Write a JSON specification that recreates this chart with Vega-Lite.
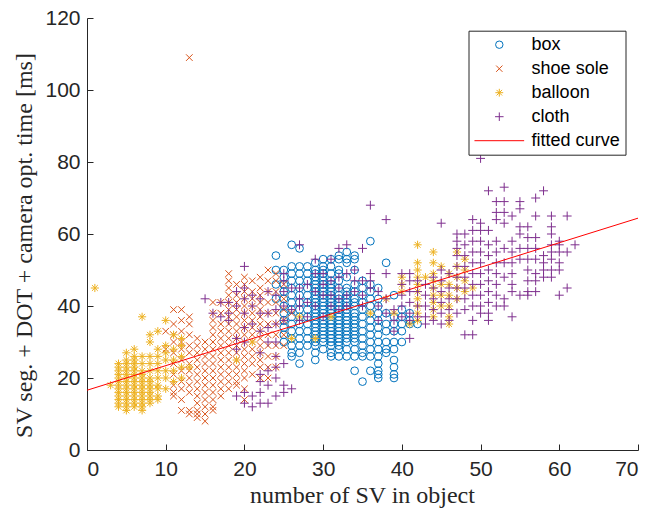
{
  "$schema": "https://vega.github.io/schema/vega-lite/v6.json",
  "width": 551,
  "height": 432,
  "autosize": {"type": "none"},
  "padding": {"left": 87, "top": 18, "right": 24, "bottom": 58},
  "background": "white",
  "config": {
    "view": {"stroke": null},
    "axis": {
      "grid": false,
      "domainColor": "#262626",
      "tickColor": "#262626",
      "labelColor": "#262626",
      "labelFont": "Liberation Sans",
      "labelFontSize": 21,
      "titleFont": "Liberation Serif",
      "titleFontSize": 24,
      "titleFontWeight": "normal",
      "titleColor": "#262626",
      "tickSize": -6,
      "tickWidth": 1,
      "domainWidth": 1
    },
    "legend": {
      "orient": "none",
      "legendX": 381.5,
      "legendY": 12.7,
      "labelFont": "Liberation Sans",
      "labelFontSize": 18,
      "labelColor": "#000000",
      "strokeColor": "#262626",
      "fillColor": "white",
      "padding": 5,
      "symbolOffset": 16.8,
      "labelOffset": 23.3,
      "rowPadding": 6,
      "symbolSize": 55,
      "symbolStrokeWidth": 1
    }
  },
  "data": {
    "values": [
      {"s":"box","x":24,"y":54},{"s":"box","x":24,"y":50},{"s":"box","x":24,"y":46},{"s":"box","x":24,"y":42},
      {"s":"box","x":25,"y":50},{"s":"box","x":25,"y":48},{"s":"box","x":25,"y":46},{"s":"box","x":25,"y":44},{"s":"box","x":25,"y":42},{"s":"box","x":25,"y":40},{"s":"box","x":25,"y":38},{"s":"box","x":25,"y":36},{"s":"box","x":25,"y":34},{"s":"box","x":25,"y":32},{"s":"box","x":25,"y":30},
      {"s":"box","x":26,"y":57},{"s":"box","x":26,"y":51},{"s":"box","x":26,"y":49},{"s":"box","x":26,"y":47},{"s":"box","x":26,"y":45},{"s":"box","x":26,"y":43},{"s":"box","x":26,"y":41},{"s":"box","x":26,"y":39},{"s":"box","x":26,"y":37},{"s":"box","x":26,"y":35},{"s":"box","x":26,"y":33},{"s":"box","x":26,"y":31},{"s":"box","x":26,"y":29},{"s":"box","x":26,"y":27},{"s":"box","x":26,"y":26},
      {"s":"box","x":27,"y":56},{"s":"box","x":27,"y":51},{"s":"box","x":27,"y":49},{"s":"box","x":27,"y":47},{"s":"box","x":27,"y":45},{"s":"box","x":27,"y":43},{"s":"box","x":27,"y":41},{"s":"box","x":27,"y":39},{"s":"box","x":27,"y":37},{"s":"box","x":27,"y":35},{"s":"box","x":27,"y":33},{"s":"box","x":27,"y":31},{"s":"box","x":27,"y":29},{"s":"box","x":27,"y":27},{"s":"box","x":27,"y":24},
      {"s":"box","x":28,"y":51},{"s":"box","x":28,"y":49},{"s":"box","x":28,"y":47},{"s":"box","x":28,"y":45},{"s":"box","x":28,"y":43},{"s":"box","x":28,"y":41},{"s":"box","x":28,"y":39},{"s":"box","x":28,"y":37},{"s":"box","x":28,"y":35},{"s":"box","x":28,"y":33},{"s":"box","x":28,"y":31},{"s":"box","x":28,"y":29},
      {"s":"box","x":29,"y":52},{"s":"box","x":29,"y":50},{"s":"box","x":29,"y":49},{"s":"box","x":29,"y":48},{"s":"box","x":29,"y":47},{"s":"box","x":29,"y":46},{"s":"box","x":29,"y":45},{"s":"box","x":29,"y":44},{"s":"box","x":29,"y":43},{"s":"box","x":29,"y":42},{"s":"box","x":29,"y":41},{"s":"box","x":29,"y":40},{"s":"box","x":29,"y":39},{"s":"box","x":29,"y":38},{"s":"box","x":29,"y":37},{"s":"box","x":29,"y":36},{"s":"box","x":29,"y":35},{"s":"box","x":29,"y":34},{"s":"box","x":29,"y":33},{"s":"box","x":29,"y":32},{"s":"box","x":29,"y":31},{"s":"box","x":29,"y":30},{"s":"box","x":29,"y":29},{"s":"box","x":29,"y":27},{"s":"box","x":29,"y":25},
      {"s":"box","x":30,"y":53},{"s":"box","x":30,"y":51},{"s":"box","x":30,"y":50},{"s":"box","x":30,"y":49},{"s":"box","x":30,"y":48},{"s":"box","x":30,"y":47},{"s":"box","x":30,"y":46},{"s":"box","x":30,"y":45},{"s":"box","x":30,"y":44},{"s":"box","x":30,"y":43},{"s":"box","x":30,"y":42},{"s":"box","x":30,"y":41},{"s":"box","x":30,"y":40},{"s":"box","x":30,"y":39},{"s":"box","x":30,"y":38},{"s":"box","x":30,"y":37},{"s":"box","x":30,"y":36},{"s":"box","x":30,"y":35},{"s":"box","x":30,"y":34},{"s":"box","x":30,"y":33},{"s":"box","x":30,"y":32},{"s":"box","x":30,"y":31},{"s":"box","x":30,"y":30},{"s":"box","x":30,"y":28},
      {"s":"box","x":31,"y":53},{"s":"box","x":31,"y":51},{"s":"box","x":31,"y":49},{"s":"box","x":31,"y":47},{"s":"box","x":31,"y":46},{"s":"box","x":31,"y":45},{"s":"box","x":31,"y":44},{"s":"box","x":31,"y":43},{"s":"box","x":31,"y":42},{"s":"box","x":31,"y":41},{"s":"box","x":31,"y":40},{"s":"box","x":31,"y":39},{"s":"box","x":31,"y":38},{"s":"box","x":31,"y":37},{"s":"box","x":31,"y":36},{"s":"box","x":31,"y":35},{"s":"box","x":31,"y":34},{"s":"box","x":31,"y":33},{"s":"box","x":31,"y":32},{"s":"box","x":31,"y":31},{"s":"box","x":31,"y":30},{"s":"box","x":31,"y":29},{"s":"box","x":31,"y":27},{"s":"box","x":31,"y":26},
      {"s":"box","x":32,"y":54},{"s":"box","x":32,"y":53},{"s":"box","x":32,"y":50},{"s":"box","x":32,"y":49},{"s":"box","x":32,"y":47},{"s":"box","x":32,"y":45},{"s":"box","x":32,"y":43},{"s":"box","x":32,"y":42},{"s":"box","x":32,"y":41},{"s":"box","x":32,"y":40},{"s":"box","x":32,"y":39},{"s":"box","x":32,"y":38},{"s":"box","x":32,"y":37},{"s":"box","x":32,"y":36},{"s":"box","x":32,"y":35},{"s":"box","x":32,"y":34},{"s":"box","x":32,"y":33},{"s":"box","x":32,"y":32},{"s":"box","x":32,"y":31},{"s":"box","x":32,"y":30},{"s":"box","x":32,"y":29},{"s":"box","x":32,"y":28},{"s":"box","x":32,"y":26},
      {"s":"box","x":33,"y":55},{"s":"box","x":33,"y":53},{"s":"box","x":33,"y":52},{"s":"box","x":33,"y":48},{"s":"box","x":33,"y":45},{"s":"box","x":33,"y":44},{"s":"box","x":33,"y":43},{"s":"box","x":33,"y":42},{"s":"box","x":33,"y":41},{"s":"box","x":33,"y":40},{"s":"box","x":33,"y":39},{"s":"box","x":33,"y":38},{"s":"box","x":33,"y":37},{"s":"box","x":33,"y":36},{"s":"box","x":33,"y":35},{"s":"box","x":33,"y":34},{"s":"box","x":33,"y":33},{"s":"box","x":33,"y":32},{"s":"box","x":33,"y":31},{"s":"box","x":33,"y":30},{"s":"box","x":33,"y":28},{"s":"box","x":33,"y":26},
      {"s":"box","x":34,"y":54},{"s":"box","x":34,"y":53},{"s":"box","x":34,"y":50},{"s":"box","x":34,"y":46},{"s":"box","x":34,"y":44},{"s":"box","x":34,"y":42},{"s":"box","x":34,"y":41},{"s":"box","x":34,"y":40},{"s":"box","x":34,"y":38},{"s":"box","x":34,"y":37},{"s":"box","x":34,"y":36},{"s":"box","x":34,"y":35},{"s":"box","x":34,"y":34},{"s":"box","x":34,"y":33},{"s":"box","x":34,"y":32},{"s":"box","x":34,"y":31},{"s":"box","x":34,"y":30},{"s":"box","x":34,"y":28},{"s":"box","x":34,"y":26},{"s":"box","x":34,"y":22},
      {"s":"box","x":35,"y":47},{"s":"box","x":35,"y":45},{"s":"box","x":35,"y":43},{"s":"box","x":35,"y":41},{"s":"box","x":35,"y":39},{"s":"box","x":35,"y":37},{"s":"box","x":35,"y":35},{"s":"box","x":35,"y":33},{"s":"box","x":35,"y":31},{"s":"box","x":35,"y":29},{"s":"box","x":35,"y":27},{"s":"box","x":35,"y":26},{"s":"box","x":35,"y":19},
      {"s":"box","x":36,"y":58},{"s":"box","x":36,"y":46},{"s":"box","x":36,"y":44},{"s":"box","x":36,"y":42},{"s":"box","x":36,"y":40},{"s":"box","x":36,"y":38},{"s":"box","x":36,"y":36},{"s":"box","x":36,"y":34},{"s":"box","x":36,"y":32},{"s":"box","x":36,"y":30},{"s":"box","x":36,"y":28},{"s":"box","x":36,"y":26},{"s":"box","x":36,"y":22},
      {"s":"box","x":37,"y":45},{"s":"box","x":37,"y":42},{"s":"box","x":37,"y":40},{"s":"box","x":37,"y":38},{"s":"box","x":37,"y":36},{"s":"box","x":37,"y":34},{"s":"box","x":37,"y":32},{"s":"box","x":37,"y":30},{"s":"box","x":37,"y":28},{"s":"box","x":37,"y":26},{"s":"box","x":37,"y":24},{"s":"box","x":37,"y":22},{"s":"box","x":37,"y":21},{"s":"box","x":37,"y":20},
      {"s":"box","x":38,"y":52},{"s":"box","x":38,"y":38},{"s":"box","x":38,"y":35},{"s":"box","x":38,"y":33},{"s":"box","x":38,"y":30},{"s":"box","x":38,"y":28},{"s":"box","x":38,"y":27},
      {"s":"box","x":39,"y":43},{"s":"box","x":39,"y":37},{"s":"box","x":39,"y":35},{"s":"box","x":39,"y":33},{"s":"box","x":39,"y":30},{"s":"box","x":39,"y":28},{"s":"box","x":39,"y":25},{"s":"box","x":39,"y":23},{"s":"box","x":39,"y":21},{"s":"box","x":39,"y":20},
      {"s":"box","x":40,"y":39},{"s":"box","x":40,"y":37},{"s":"box","x":40,"y":35},{"s":"box","x":40,"y":33},{"s":"box","x":40,"y":30},
      {"s":"box","x":41,"y":38},{"s":"box","x":41,"y":36},{"s":"box","x":41,"y":35},
      {"s":"box","x":42,"y":35},

      {"s":"shoe sole","x":10,"y":33},{"s":"shoe sole","x":10,"y":28},
      {"s":"shoe sole","x":11,"y":39},{"s":"shoe sole","x":11,"y":35},{"s":"shoe sole","x":11,"y":32},{"s":"shoe sole","x":11,"y":30},{"s":"shoe sole","x":11,"y":27},{"s":"shoe sole","x":11,"y":24},{"s":"shoe sole","x":11,"y":21},{"s":"shoe sole","x":11,"y":18},{"s":"shoe sole","x":11,"y":16},{"s":"shoe sole","x":11,"y":15},
      {"s":"shoe sole","x":12,"y":39},{"s":"shoe sole","x":12,"y":36},{"s":"shoe sole","x":12,"y":33},{"s":"shoe sole","x":12,"y":30},{"s":"shoe sole","x":12,"y":28},{"s":"shoe sole","x":12,"y":25},{"s":"shoe sole","x":12,"y":22},{"s":"shoe sole","x":12,"y":19},{"s":"shoe sole","x":12,"y":17},{"s":"shoe sole","x":12,"y":14},{"s":"shoe sole","x":12,"y":11},
      {"s":"shoe sole","x":13,"y":109},{"s":"shoe sole","x":13,"y":37},{"s":"shoe sole","x":13,"y":35},{"s":"shoe sole","x":13,"y":32},{"s":"shoe sole","x":13,"y":29},{"s":"shoe sole","x":13,"y":27},{"s":"shoe sole","x":13,"y":24},{"s":"shoe sole","x":13,"y":22},{"s":"shoe sole","x":13,"y":20},{"s":"shoe sole","x":13,"y":18},{"s":"shoe sole","x":13,"y":16},{"s":"shoe sole","x":13,"y":11},{"s":"shoe sole","x":13,"y":10},
      {"s":"shoe sole","x":14,"y":31},{"s":"shoe sole","x":14,"y":29},{"s":"shoe sole","x":14,"y":27},{"s":"shoe sole","x":14,"y":25},{"s":"shoe sole","x":14,"y":23},{"s":"shoe sole","x":14,"y":21},{"s":"shoe sole","x":14,"y":19},{"s":"shoe sole","x":14,"y":17},{"s":"shoe sole","x":14,"y":15},{"s":"shoe sole","x":14,"y":13},{"s":"shoe sole","x":14,"y":11},{"s":"shoe sole","x":14,"y":10},{"s":"shoe sole","x":14,"y":9},
      {"s":"shoe sole","x":15,"y":30},{"s":"shoe sole","x":15,"y":28},{"s":"shoe sole","x":15,"y":26},{"s":"shoe sole","x":15,"y":24},{"s":"shoe sole","x":15,"y":22},{"s":"shoe sole","x":15,"y":20},{"s":"shoe sole","x":15,"y":18},{"s":"shoe sole","x":15,"y":16},{"s":"shoe sole","x":15,"y":14},{"s":"shoe sole","x":15,"y":12},{"s":"shoe sole","x":15,"y":10},{"s":"shoe sole","x":15,"y":8},
      {"s":"shoe sole","x":16,"y":41},{"s":"shoe sole","x":16,"y":38},{"s":"shoe sole","x":16,"y":36},{"s":"shoe sole","x":16,"y":34},{"s":"shoe sole","x":16,"y":32},{"s":"shoe sole","x":16,"y":30},{"s":"shoe sole","x":16,"y":28},{"s":"shoe sole","x":16,"y":26},{"s":"shoe sole","x":16,"y":24},{"s":"shoe sole","x":16,"y":22},{"s":"shoe sole","x":16,"y":20},{"s":"shoe sole","x":16,"y":18},{"s":"shoe sole","x":16,"y":16},{"s":"shoe sole","x":16,"y":14},{"s":"shoe sole","x":16,"y":12},{"s":"shoe sole","x":16,"y":11},
      {"s":"shoe sole","x":17,"y":41},{"s":"shoe sole","x":17,"y":38},{"s":"shoe sole","x":17,"y":35},{"s":"shoe sole","x":17,"y":33},{"s":"shoe sole","x":17,"y":31},{"s":"shoe sole","x":17,"y":29},{"s":"shoe sole","x":17,"y":27},{"s":"shoe sole","x":17,"y":25},{"s":"shoe sole","x":17,"y":23},{"s":"shoe sole","x":17,"y":21},{"s":"shoe sole","x":17,"y":19},{"s":"shoe sole","x":17,"y":17},{"s":"shoe sole","x":17,"y":15},
      {"s":"shoe sole","x":18,"y":49},{"s":"shoe sole","x":18,"y":47},{"s":"shoe sole","x":18,"y":45},{"s":"shoe sole","x":18,"y":43},{"s":"shoe sole","x":18,"y":41},{"s":"shoe sole","x":18,"y":39},{"s":"shoe sole","x":18,"y":37},{"s":"shoe sole","x":18,"y":35},{"s":"shoe sole","x":18,"y":33},{"s":"shoe sole","x":18,"y":31},{"s":"shoe sole","x":18,"y":29},{"s":"shoe sole","x":18,"y":27},{"s":"shoe sole","x":18,"y":25},{"s":"shoe sole","x":18,"y":23},{"s":"shoe sole","x":18,"y":21},{"s":"shoe sole","x":18,"y":19},{"s":"shoe sole","x":18,"y":17},
      {"s":"shoe sole","x":19,"y":46},{"s":"shoe sole","x":19,"y":43},{"s":"shoe sole","x":19,"y":41},{"s":"shoe sole","x":19,"y":39},{"s":"shoe sole","x":19,"y":37},{"s":"shoe sole","x":19,"y":35},{"s":"shoe sole","x":19,"y":33},{"s":"shoe sole","x":19,"y":31},{"s":"shoe sole","x":19,"y":29},{"s":"shoe sole","x":19,"y":27},{"s":"shoe sole","x":19,"y":25},{"s":"shoe sole","x":19,"y":23},{"s":"shoe sole","x":19,"y":21},{"s":"shoe sole","x":19,"y":19},{"s":"shoe sole","x":19,"y":18},
      {"s":"shoe sole","x":20,"y":48},{"s":"shoe sole","x":20,"y":46},{"s":"shoe sole","x":20,"y":44},{"s":"shoe sole","x":20,"y":42},{"s":"shoe sole","x":20,"y":40},{"s":"shoe sole","x":20,"y":38},{"s":"shoe sole","x":20,"y":36},{"s":"shoe sole","x":20,"y":34},{"s":"shoe sole","x":20,"y":32},{"s":"shoe sole","x":20,"y":30},{"s":"shoe sole","x":20,"y":28},{"s":"shoe sole","x":20,"y":26},{"s":"shoe sole","x":20,"y":24},{"s":"shoe sole","x":20,"y":22},{"s":"shoe sole","x":20,"y":20},{"s":"shoe sole","x":20,"y":17},{"s":"shoe sole","x":20,"y":14},
      {"s":"shoe sole","x":21,"y":47},{"s":"shoe sole","x":21,"y":44},{"s":"shoe sole","x":21,"y":42},{"s":"shoe sole","x":21,"y":40},{"s":"shoe sole","x":21,"y":38},{"s":"shoe sole","x":21,"y":36},{"s":"shoe sole","x":21,"y":34},{"s":"shoe sole","x":21,"y":32},{"s":"shoe sole","x":21,"y":30},{"s":"shoe sole","x":21,"y":28},{"s":"shoe sole","x":21,"y":26},{"s":"shoe sole","x":21,"y":24},{"s":"shoe sole","x":21,"y":21},
      {"s":"shoe sole","x":22,"y":48},{"s":"shoe sole","x":22,"y":45},{"s":"shoe sole","x":22,"y":43},{"s":"shoe sole","x":22,"y":41},{"s":"shoe sole","x":22,"y":39},{"s":"shoe sole","x":22,"y":37},{"s":"shoe sole","x":22,"y":35},{"s":"shoe sole","x":22,"y":33},{"s":"shoe sole","x":22,"y":31},{"s":"shoe sole","x":22,"y":29},{"s":"shoe sole","x":22,"y":27},{"s":"shoe sole","x":22,"y":25},{"s":"shoe sole","x":22,"y":23},{"s":"shoe sole","x":22,"y":20},
      {"s":"shoe sole","x":23,"y":50},{"s":"shoe sole","x":23,"y":47},{"s":"shoe sole","x":23,"y":44},{"s":"shoe sole","x":23,"y":41},{"s":"shoe sole","x":23,"y":38},{"s":"shoe sole","x":23,"y":35},{"s":"shoe sole","x":23,"y":32},{"s":"shoe sole","x":23,"y":29},{"s":"shoe sole","x":23,"y":26},{"s":"shoe sole","x":23,"y":23},{"s":"shoe sole","x":23,"y":20},
      {"s":"shoe sole","x":24,"y":49},{"s":"shoe sole","x":24,"y":47},{"s":"shoe sole","x":24,"y":44},{"s":"shoe sole","x":24,"y":41},{"s":"shoe sole","x":24,"y":38},{"s":"shoe sole","x":24,"y":35},{"s":"shoe sole","x":24,"y":32},{"s":"shoe sole","x":24,"y":29},{"s":"shoe sole","x":24,"y":26},{"s":"shoe sole","x":24,"y":23},
      {"s":"shoe sole","x":25,"y":46},{"s":"shoe sole","x":25,"y":42},{"s":"shoe sole","x":25,"y":39},{"s":"shoe sole","x":25,"y":36},{"s":"shoe sole","x":25,"y":32},{"s":"shoe sole","x":25,"y":29},
      {"s":"shoe sole","x":26,"y":38},

      {"s":"balloon","x":1,"y":45},{"s":"balloon","x":3,"y":18},
      {"s":"balloon","x":4,"y":12},{"s":"balloon","x":4,"y":13},{"s":"balloon","x":4,"y":14},{"s":"balloon","x":4,"y":15},{"s":"balloon","x":4,"y":16},{"s":"balloon","x":4,"y":17},{"s":"balloon","x":4,"y":18},{"s":"balloon","x":4,"y":19},{"s":"balloon","x":4,"y":20},{"s":"balloon","x":4,"y":21},{"s":"balloon","x":4,"y":22},{"s":"balloon","x":4,"y":23},{"s":"balloon","x":4,"y":24},
      {"s":"balloon","x":5,"y":11},{"s":"balloon","x":5,"y":12},{"s":"balloon","x":5,"y":13},{"s":"balloon","x":5,"y":14},{"s":"balloon","x":5,"y":15},{"s":"balloon","x":5,"y":16},{"s":"balloon","x":5,"y":17},{"s":"balloon","x":5,"y":18},{"s":"balloon","x":5,"y":19},{"s":"balloon","x":5,"y":20},{"s":"balloon","x":5,"y":21},{"s":"balloon","x":5,"y":22},{"s":"balloon","x":5,"y":23},{"s":"balloon","x":5,"y":24},{"s":"balloon","x":5,"y":25},{"s":"balloon","x":5,"y":27},
      {"s":"balloon","x":6,"y":12},{"s":"balloon","x":6,"y":13},{"s":"balloon","x":6,"y":14},{"s":"balloon","x":6,"y":15},{"s":"balloon","x":6,"y":16},{"s":"balloon","x":6,"y":17},{"s":"balloon","x":6,"y":18},{"s":"balloon","x":6,"y":19},{"s":"balloon","x":6,"y":20},{"s":"balloon","x":6,"y":21},{"s":"balloon","x":6,"y":22},{"s":"balloon","x":6,"y":23},{"s":"balloon","x":6,"y":24},{"s":"balloon","x":6,"y":25},{"s":"balloon","x":6,"y":26},{"s":"balloon","x":6,"y":28},
      {"s":"balloon","x":7,"y":11},{"s":"balloon","x":7,"y":12},{"s":"balloon","x":7,"y":13},{"s":"balloon","x":7,"y":14},{"s":"balloon","x":7,"y":15},{"s":"balloon","x":7,"y":16},{"s":"balloon","x":7,"y":17},{"s":"balloon","x":7,"y":18},{"s":"balloon","x":7,"y":19},{"s":"balloon","x":7,"y":20},{"s":"balloon","x":7,"y":21},{"s":"balloon","x":7,"y":22},{"s":"balloon","x":7,"y":24},{"s":"balloon","x":7,"y":26},{"s":"balloon","x":7,"y":37},
      {"s":"balloon","x":8,"y":13},{"s":"balloon","x":8,"y":14},{"s":"balloon","x":8,"y":15},{"s":"balloon","x":8,"y":16},{"s":"balloon","x":8,"y":17},{"s":"balloon","x":8,"y":18},{"s":"balloon","x":8,"y":19},{"s":"balloon","x":8,"y":20},{"s":"balloon","x":8,"y":22},{"s":"balloon","x":8,"y":24},{"s":"balloon","x":8,"y":26},{"s":"balloon","x":8,"y":30},{"s":"balloon","x":8,"y":32},
      {"s":"balloon","x":9,"y":14},{"s":"balloon","x":9,"y":15},{"s":"balloon","x":9,"y":17},{"s":"balloon","x":9,"y":18},{"s":"balloon","x":9,"y":20},{"s":"balloon","x":9,"y":22},{"s":"balloon","x":9,"y":24},{"s":"balloon","x":9,"y":26},{"s":"balloon","x":9,"y":28},{"s":"balloon","x":9,"y":33},
      {"s":"balloon","x":10,"y":17},{"s":"balloon","x":10,"y":20},{"s":"balloon","x":10,"y":22},{"s":"balloon","x":10,"y":25},{"s":"balloon","x":10,"y":27},{"s":"balloon","x":10,"y":29},{"s":"balloon","x":10,"y":36},
      {"s":"balloon","x":11,"y":19},{"s":"balloon","x":11,"y":22},{"s":"balloon","x":11,"y":25},{"s":"balloon","x":11,"y":28},{"s":"balloon","x":11,"y":32},
      {"s":"balloon","x":12,"y":20},{"s":"balloon","x":12,"y":23},{"s":"balloon","x":12,"y":26},{"s":"balloon","x":12,"y":29},{"s":"balloon","x":12,"y":31},
      {"s":"balloon","x":13,"y":23},{"s":"balloon","x":19,"y":25},{"s":"balloon","x":21,"y":30},{"s":"balloon","x":26,"y":31},{"s":"balloon","x":27,"y":37},{"s":"balloon","x":29,"y":31},{"s":"balloon","x":31,"y":37},{"s":"balloon","x":36,"y":38},{"s":"balloon","x":38,"y":42},{"s":"balloon","x":39,"y":38},
      {"s":"balloon","x":40,"y":44},{"s":"balloon","x":40,"y":46},{"s":"balloon","x":40,"y":48},{"s":"balloon","x":41,"y":35},
      {"s":"balloon","x":42,"y":36},{"s":"balloon","x":42,"y":38},{"s":"balloon","x":42,"y":40},{"s":"balloon","x":42,"y":42},{"s":"balloon","x":42,"y":44},{"s":"balloon","x":42,"y":46},{"s":"balloon","x":42,"y":48},{"s":"balloon","x":42,"y":50},{"s":"balloon","x":42,"y":52},{"s":"balloon","x":42,"y":57},
      {"s":"balloon","x":43,"y":48},
      {"s":"balloon","x":44,"y":37},{"s":"balloon","x":44,"y":39},{"s":"balloon","x":44,"y":41},{"s":"balloon","x":44,"y":43},{"s":"balloon","x":44,"y":45},{"s":"balloon","x":44,"y":47},{"s":"balloon","x":44,"y":49},{"s":"balloon","x":44,"y":52},{"s":"balloon","x":44,"y":55},
      {"s":"balloon","x":45,"y":40},{"s":"balloon","x":45,"y":43},{"s":"balloon","x":45,"y":46},{"s":"balloon","x":45,"y":51},
      {"s":"balloon","x":46,"y":35},{"s":"balloon","x":46,"y":37},{"s":"balloon","x":46,"y":40},{"s":"balloon","x":46,"y":43},{"s":"balloon","x":46,"y":46},{"s":"balloon","x":46,"y":49},
      {"s":"balloon","x":47,"y":42},{"s":"balloon","x":47,"y":45},{"s":"balloon","x":47,"y":48},{"s":"balloon","x":47,"y":51},{"s":"balloon","x":47,"y":55},
      {"s":"balloon","x":48,"y":44},{"s":"balloon","x":48,"y":47},{"s":"balloon","x":48,"y":50},{"s":"balloon","x":48,"y":53},
      {"s":"balloon","x":49,"y":45},

      {"s":"cloth","x":15,"y":42},{"s":"cloth","x":16,"y":38},{"s":"cloth","x":17,"y":41},{"s":"cloth","x":17,"y":37},{"s":"cloth","x":18,"y":41},{"s":"cloth","x":18,"y":38},{"s":"cloth","x":18,"y":36},
      {"s":"cloth","x":19,"y":44},{"s":"cloth","x":19,"y":40},{"s":"cloth","x":19,"y":31},{"s":"cloth","x":19,"y":28},{"s":"cloth","x":19,"y":15},
      {"s":"cloth","x":20,"y":51},{"s":"cloth","x":20,"y":45},{"s":"cloth","x":20,"y":42},{"s":"cloth","x":20,"y":38},{"s":"cloth","x":20,"y":34},{"s":"cloth","x":20,"y":30},{"s":"cloth","x":20,"y":16},{"s":"cloth","x":20,"y":13},
      {"s":"cloth","x":21,"y":43},{"s":"cloth","x":21,"y":40},{"s":"cloth","x":21,"y":35},{"s":"cloth","x":21,"y":15},{"s":"cloth","x":21,"y":12},
      {"s":"cloth","x":22,"y":42},{"s":"cloth","x":22,"y":38},{"s":"cloth","x":22,"y":33},{"s":"cloth","x":22,"y":27},{"s":"cloth","x":22,"y":21},{"s":"cloth","x":22,"y":19},{"s":"cloth","x":22,"y":16},{"s":"cloth","x":22,"y":13},
      {"s":"cloth","x":23,"y":44},{"s":"cloth","x":23,"y":38},{"s":"cloth","x":23,"y":34},{"s":"cloth","x":23,"y":30},{"s":"cloth","x":23,"y":22},{"s":"cloth","x":23,"y":18},{"s":"cloth","x":23,"y":13},
      {"s":"cloth","x":24,"y":43},{"s":"cloth","x":24,"y":39},{"s":"cloth","x":24,"y":35},{"s":"cloth","x":24,"y":30},{"s":"cloth","x":24,"y":26},{"s":"cloth","x":24,"y":23},{"s":"cloth","x":24,"y":20},{"s":"cloth","x":24,"y":15},
      {"s":"cloth","x":25,"y":49},{"s":"cloth","x":25,"y":47},{"s":"cloth","x":25,"y":44},{"s":"cloth","x":25,"y":40},{"s":"cloth","x":25,"y":36},{"s":"cloth","x":25,"y":24},{"s":"cloth","x":25,"y":18},{"s":"cloth","x":25,"y":16},
      {"s":"cloth","x":26,"y":45},{"s":"cloth","x":26,"y":39},{"s":"cloth","x":26,"y":17},
      {"s":"cloth","x":27,"y":57},{"s":"cloth","x":27,"y":45},{"s":"cloth","x":27,"y":42},{"s":"cloth","x":27,"y":40},{"s":"cloth","x":27,"y":36},
      {"s":"cloth","x":28,"y":46},{"s":"cloth","x":28,"y":41},{"s":"cloth","x":28,"y":37},
      {"s":"cloth","x":29,"y":53},{"s":"cloth","x":29,"y":49},{"s":"cloth","x":29,"y":44},{"s":"cloth","x":29,"y":40},
      {"s":"cloth","x":30,"y":49},{"s":"cloth","x":30,"y":46},{"s":"cloth","x":30,"y":43},{"s":"cloth","x":30,"y":37},
      {"s":"cloth","x":31,"y":53},{"s":"cloth","x":31,"y":47},{"s":"cloth","x":31,"y":43},{"s":"cloth","x":31,"y":40},
      {"s":"cloth","x":32,"y":56},{"s":"cloth","x":32,"y":48},{"s":"cloth","x":32,"y":45},{"s":"cloth","x":32,"y":42},{"s":"cloth","x":32,"y":39},
      {"s":"cloth","x":33,"y":57},{"s":"cloth","x":33,"y":49},{"s":"cloth","x":33,"y":43},{"s":"cloth","x":33,"y":40},
      {"s":"cloth","x":34,"y":50},{"s":"cloth","x":34,"y":47},{"s":"cloth","x":34,"y":44},
      {"s":"cloth","x":35,"y":56},{"s":"cloth","x":35,"y":47},{"s":"cloth","x":35,"y":43},{"s":"cloth","x":35,"y":40},
      {"s":"cloth","x":36,"y":68},{"s":"cloth","x":36,"y":49},{"s":"cloth","x":36,"y":47},{"s":"cloth","x":36,"y":45},
      {"s":"cloth","x":37,"y":44},{"s":"cloth","x":37,"y":40},{"s":"cloth","x":37,"y":36},
      {"s":"cloth","x":38,"y":64},{"s":"cloth","x":38,"y":49},{"s":"cloth","x":38,"y":42},{"s":"cloth","x":38,"y":38},
      {"s":"cloth","x":39,"y":39},{"s":"cloth","x":39,"y":36},{"s":"cloth","x":39,"y":33},
      {"s":"cloth","x":40,"y":49},{"s":"cloth","x":40,"y":46},{"s":"cloth","x":40,"y":43},{"s":"cloth","x":40,"y":40},{"s":"cloth","x":40,"y":37},
      {"s":"cloth","x":41,"y":49},{"s":"cloth","x":41,"y":47},{"s":"cloth","x":41,"y":44},{"s":"cloth","x":41,"y":41},{"s":"cloth","x":41,"y":38},{"s":"cloth","x":41,"y":36},{"s":"cloth","x":41,"y":31},
      {"s":"cloth","x":42,"y":47},{"s":"cloth","x":42,"y":44},{"s":"cloth","x":42,"y":40},{"s":"cloth","x":42,"y":37},
      {"s":"cloth","x":43,"y":46},{"s":"cloth","x":43,"y":43},{"s":"cloth","x":43,"y":40},{"s":"cloth","x":43,"y":37},{"s":"cloth","x":43,"y":35},
      {"s":"cloth","x":44,"y":48},{"s":"cloth","x":44,"y":45},{"s":"cloth","x":44,"y":42},{"s":"cloth","x":44,"y":39},{"s":"cloth","x":44,"y":36},
      {"s":"cloth","x":45,"y":63},{"s":"cloth","x":45,"y":50},{"s":"cloth","x":45,"y":47},{"s":"cloth","x":45,"y":44},{"s":"cloth","x":45,"y":41},{"s":"cloth","x":45,"y":38},{"s":"cloth","x":45,"y":35},
      {"s":"cloth","x":46,"y":49},{"s":"cloth","x":46,"y":45},{"s":"cloth","x":46,"y":42},{"s":"cloth","x":46,"y":39},{"s":"cloth","x":46,"y":36},
      {"s":"cloth","x":47,"y":60},{"s":"cloth","x":47,"y":58},{"s":"cloth","x":47,"y":56},{"s":"cloth","x":47,"y":54},{"s":"cloth","x":47,"y":51},{"s":"cloth","x":47,"y":48},{"s":"cloth","x":47,"y":45},{"s":"cloth","x":47,"y":42},{"s":"cloth","x":47,"y":38},
      {"s":"cloth","x":48,"y":60},{"s":"cloth","x":48,"y":57},{"s":"cloth","x":48,"y":54},{"s":"cloth","x":48,"y":51},{"s":"cloth","x":48,"y":48},{"s":"cloth","x":48,"y":45},{"s":"cloth","x":48,"y":42},{"s":"cloth","x":48,"y":39},{"s":"cloth","x":48,"y":32},
      {"s":"cloth","x":49,"y":64},{"s":"cloth","x":49,"y":61},{"s":"cloth","x":49,"y":58},{"s":"cloth","x":49,"y":55},{"s":"cloth","x":49,"y":52},{"s":"cloth","x":49,"y":49},{"s":"cloth","x":49,"y":46},{"s":"cloth","x":49,"y":43},{"s":"cloth","x":49,"y":40},{"s":"cloth","x":49,"y":36},{"s":"cloth","x":49,"y":32},
      {"s":"cloth","x":50,"y":81},{"s":"cloth","x":50,"y":63},{"s":"cloth","x":50,"y":61},{"s":"cloth","x":50,"y":58},{"s":"cloth","x":50,"y":55},{"s":"cloth","x":50,"y":52},{"s":"cloth","x":50,"y":49},{"s":"cloth","x":50,"y":46},{"s":"cloth","x":50,"y":43},{"s":"cloth","x":50,"y":40},{"s":"cloth","x":50,"y":38},
      {"s":"cloth","x":51,"y":72},{"s":"cloth","x":51,"y":61},{"s":"cloth","x":51,"y":57},{"s":"cloth","x":51,"y":54},{"s":"cloth","x":51,"y":50},{"s":"cloth","x":51,"y":47},{"s":"cloth","x":51,"y":44},{"s":"cloth","x":51,"y":41},{"s":"cloth","x":51,"y":38},{"s":"cloth","x":51,"y":36},
      {"s":"cloth","x":52,"y":69},{"s":"cloth","x":52,"y":66},{"s":"cloth","x":52,"y":64},{"s":"cloth","x":52,"y":58},{"s":"cloth","x":52,"y":55},{"s":"cloth","x":52,"y":52},{"s":"cloth","x":52,"y":49},{"s":"cloth","x":52,"y":46},{"s":"cloth","x":52,"y":43},{"s":"cloth","x":52,"y":40},
      {"s":"cloth","x":53,"y":73},{"s":"cloth","x":53,"y":69},{"s":"cloth","x":53,"y":66},{"s":"cloth","x":53,"y":63},{"s":"cloth","x":53,"y":56},{"s":"cloth","x":53,"y":52},{"s":"cloth","x":53,"y":48},{"s":"cloth","x":53,"y":42},{"s":"cloth","x":53,"y":40},
      {"s":"cloth","x":54,"y":65},{"s":"cloth","x":54,"y":58},{"s":"cloth","x":54,"y":55},{"s":"cloth","x":54,"y":52},{"s":"cloth","x":54,"y":49},{"s":"cloth","x":54,"y":46},{"s":"cloth","x":54,"y":44},{"s":"cloth","x":54,"y":37},
      {"s":"cloth","x":55,"y":69},{"s":"cloth","x":55,"y":67},{"s":"cloth","x":55,"y":62},{"s":"cloth","x":55,"y":60},{"s":"cloth","x":55,"y":56},{"s":"cloth","x":55,"y":53},{"s":"cloth","x":55,"y":43},
      {"s":"cloth","x":56,"y":62},{"s":"cloth","x":56,"y":59},{"s":"cloth","x":56,"y":56},{"s":"cloth","x":56,"y":53},{"s":"cloth","x":56,"y":50},{"s":"cloth","x":56,"y":47},{"s":"cloth","x":56,"y":44},{"s":"cloth","x":56,"y":43},
      {"s":"cloth","x":57,"y":70},{"s":"cloth","x":57,"y":65},{"s":"cloth","x":57,"y":59},{"s":"cloth","x":57,"y":56},{"s":"cloth","x":57,"y":53},{"s":"cloth","x":57,"y":49},{"s":"cloth","x":57,"y":47},{"s":"cloth","x":57,"y":44},
      {"s":"cloth","x":58,"y":72},{"s":"cloth","x":58,"y":54},{"s":"cloth","x":58,"y":52},{"s":"cloth","x":58,"y":50},{"s":"cloth","x":58,"y":48},
      {"s":"cloth","x":59,"y":65},{"s":"cloth","x":59,"y":62},{"s":"cloth","x":59,"y":60},{"s":"cloth","x":59,"y":57},{"s":"cloth","x":59,"y":55},{"s":"cloth","x":59,"y":53},{"s":"cloth","x":59,"y":50},{"s":"cloth","x":59,"y":48},
      {"s":"cloth","x":60,"y":58},{"s":"cloth","x":60,"y":57},{"s":"cloth","x":60,"y":55},{"s":"cloth","x":60,"y":52},{"s":"cloth","x":60,"y":50},{"s":"cloth","x":60,"y":43},
      {"s":"cloth","x":61,"y":65},{"s":"cloth","x":61,"y":55},{"s":"cloth","x":61,"y":45},
      {"s":"cloth","x":62,"y":57},

      {"s":"fitted curve","x":0,"y":16.6},{"s":"fitted curve","x":70,"y":64.4}
    ]
  },
  "layer": [
    {
      "transform": [{"filter": "datum.s !== 'fitted curve'"}],
      "mark": {"type": "point", "filled": false, "size": 60, "strokeWidth": 1, "opacity": 1},
      "encoding": {
        "x": {
          "field": "x", "type": "quantitative",
          "scale": {"domain": [0, 70], "nice": false, "zero": false},
          "axis": {"values": [0, 10, 20, 30, 40, 50, 60, 70], "title": "number of SV in object", "labelPadding": 14, "titleX": 275, "titleY": 45, "titleBaseline": "middle", "titleAnchor": "middle"}
        },
        "y": {
          "field": "y", "type": "quantitative",
          "scale": {"domain": [0, 120], "nice": false},
          "axis": {"values": [0, 20, 40, 60, 80, 100, 120], "title": "SV seg. + DOT + camera opt. time [ms]", "labelPadding": 13, "titleX": -63, "titleY": 227, "titleBaseline": "middle", "titleAngle": -90}
        },
        "color": {
          "field": "s", "type": "nominal",
          "scale": {"domain": ["box", "shoe sole", "balloon", "cloth", "fitted curve"], "range": ["#0072BD", "#D95319", "#EDB120", "#7E2F8E", "#FF0000"]},
          "legend": {"title": null}
        },
        "shape": {
          "field": "s", "type": "nominal",
          "scale": {"domain": ["box", "shoe sole", "balloon", "cloth", "fitted curve"], "range": ["circle", "M-0.85,-0.85L0.85,0.85M-0.85,0.85L0.85,-0.85", "M-1.05,0L1.05,0M0,-1.05L0,1.05M-0.75,-0.75L0.75,0.75M-0.75,0.75L0.75,-0.75", "M-1.15,0L1.15,0M0,-1.15L0,1.15", "M-6.7,0L6.7,0"]},
          "legend": {"title": null}
        }
      }
    },
    {
      "transform": [{"filter": "datum.s === 'fitted curve'"}],
      "mark": {"type": "line", "strokeWidth": 1},
      "encoding": {
        "x": {"field": "x", "type": "quantitative"},
        "y": {"field": "y", "type": "quantitative"},
        "color": {"field": "s", "type": "nominal", "legend": null}
      }
    }
  ]
}
